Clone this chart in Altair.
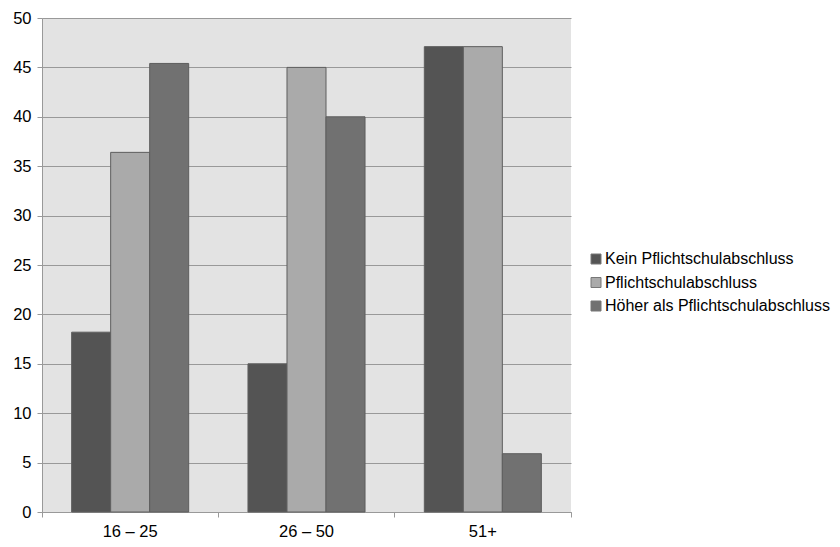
import altair as alt
import pandas as pd

groups = ["16 – 25", "26 – 50", "51+"]
series = ["Kein Pflichtschulabschluss", "Pflichtschulabschluss", "Höher als Pflichtschulabschluss"]
kein = [18.2, 15.0, 47.1]
pflicht = [36.4, 45.0, 47.1]
hoeher = [45.4, 40.0, 5.9]
colors = ["#545454", "#aaaaaa", "#717171"]

rows = []
for i, g in enumerate(groups):
    for s, vals in zip(series, [kein, pflicht, hoeher]):
        rows.append({"Gruppe": g, "Abschluss": s, "Wert": vals[i]})
df = pd.DataFrame(rows)

FONT = "Liberation Sans"
FS = 16.5

chart = alt.Chart(df).mark_bar(stroke="#5e5e5e", strokeWidth=1).encode(
    x=alt.X("Gruppe:N", sort=groups, title=None,
            scale=alt.Scale(paddingInner=0, paddingOuter=0),
            axis=alt.Axis(labelAngle=0, grid=False, domainColor="#999999",
                          tickColor="#999999", tickSize=5, bandPosition=1,
                          tickExtra=True, labelPadding=6, labelFontSize=FS,
                          labelColor="#000000", labelFont=FONT)),
    xOffset=alt.XOffset("Abschluss:N", sort=series,
                        scale=alt.Scale(paddingInner=0, paddingOuter=0.76)),
    y=alt.Y("Wert:Q", title=None,
            scale=alt.Scale(domain=[0, 50], nice=False),
            axis=alt.Axis(values=list(range(0, 51, 5)), gridColor="#999999",
                          gridWidth=1, domainColor="#999999", tickColor="#999999",
                          tickSize=5, labelPadding=6, labelFontSize=FS,
                          labelColor="#000000", labelFont=FONT)),
    color=alt.Color("Abschluss:N", sort=series,
                    scale=alt.Scale(domain=series, range=colors),
                    legend=alt.Legend(title=None, orient="none", legendX=546, legendY=233,
                                      symbolType="square", symbolSize=100,
                                      symbolStrokeColor="#777777", symbolStrokeWidth=1,
                                      labelFontSize=16, labelFont=FONT, labelColor="#000000",
                                      labelOffset=1, rowPadding=7.5, labelLimit=400)),
).properties(
    width=529, height=494,
    autosize=alt.AutoSizeParams(type="none"),
    padding={"left": 34, "top": 10, "right": 261, "bottom": 29},
).configure_view(
    fill="#e3e3e3", stroke=None
)

chart.save("out.html", embed_options={"renderer": "svg", "actions": False})
